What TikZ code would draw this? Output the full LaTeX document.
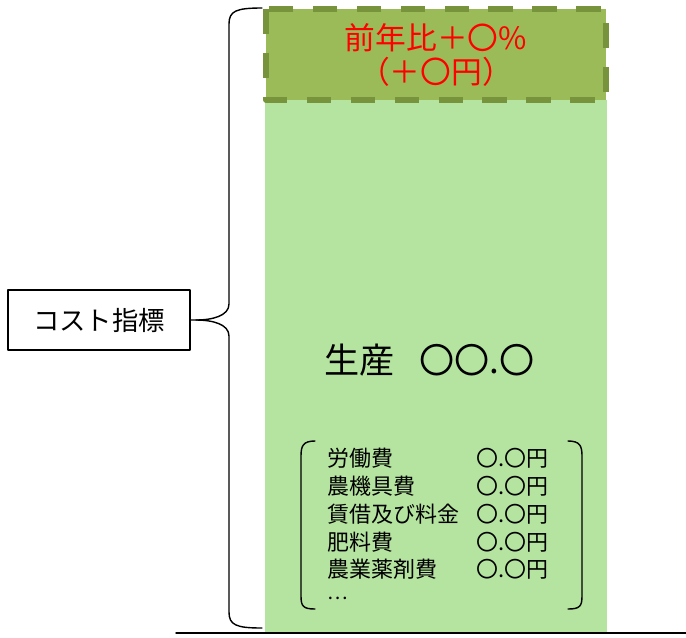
\documentclass[tikz,border=0pt]{standalone}
\usepackage{fontspec}
\setmainfont{Noto Sans CJK JP}
\usetikzlibrary{positioning,calc}
\definecolor{barlight}{HTML}{B5E3A0}
\definecolor{bartop}{HTML}{9BBB59}
\definecolor{bardash}{HTML}{77933C}
\tikzset{
  itemtxt/.style={anchor=west,font=\fontsize{12.5}{14}\selectfont,inner sep=0pt},
  valtxt/.style={anchor=east,font=\fontsize{12.5}{14}\selectfont,inner sep=0pt}
}
\begin{document}
\begin{tikzpicture}[x=0.02cm,y=-0.02cm,line join=round,line cap=round]
\useasboundingbox (0,0) rectangle (686,637);
% bar
\fill[barlight] (265,100) rectangle (607,634);
\draw[bardash,fill=bartop,line width=3.2pt,dash pattern=on 14pt off 11pt,line cap=butt] (266,9) rectangle (606,100);
\draw[thick] (176,633)--(686,633);
% texts
\node[text=red,font=\fontsize{17.5}{19.5}\selectfont,align=center] (rate) at (436,55) {前年比＋〇\%\\（＋〇円）};
\node[font=\fontsize{20}{22}\selectfont,anchor=west] (prod) at (318,360) {生産\hspace{0.7em}〇〇.〇};
\foreach \i/\t/\y in {1/労働費/458,2/農機具費/486,3/賃借及び料金/514,4/肥料費/542,5/農業薬剤費/569}{
  \node[itemtxt] (item\i) at (327,\y) {\t};
  \node[valtxt] (val\i) at (549,\y) {〇.〇円};
}
\node[itemtxt,font=\fontsize{11}{12}\selectfont] (item6) at (327,598) {…};
% parentheses
\draw[thick] (315,441) .. controls (303,441) and (301,446) .. (301,456) -- (301,596) .. controls (301,606) and (303,609) .. (315,609);
\draw[thick] (568,441) .. controls (580,441) and (582,446) .. (582,456) -- (582,596) .. controls (582,606) and (580,609) .. (568,609);
% label and brace
\node[draw,thick,minimum width=3.64cm,minimum height=1.2cm,font=\fontsize{15}{17}\selectfont] (cost) at (99,320) {コスト指標};
\draw[thick] (cost.east) -- (196,320) .. controls (212,320) and (229,316) .. (229,304) -- (229,24) .. controls (229,11) and (236,8) .. (262,8);
\draw[thick] (196,320) .. controls (212,320) and (229,324) .. (229,336) -- (229,612) .. controls (229,625) and (236,628) .. (262,628);
\end{tikzpicture}
\end{document}
